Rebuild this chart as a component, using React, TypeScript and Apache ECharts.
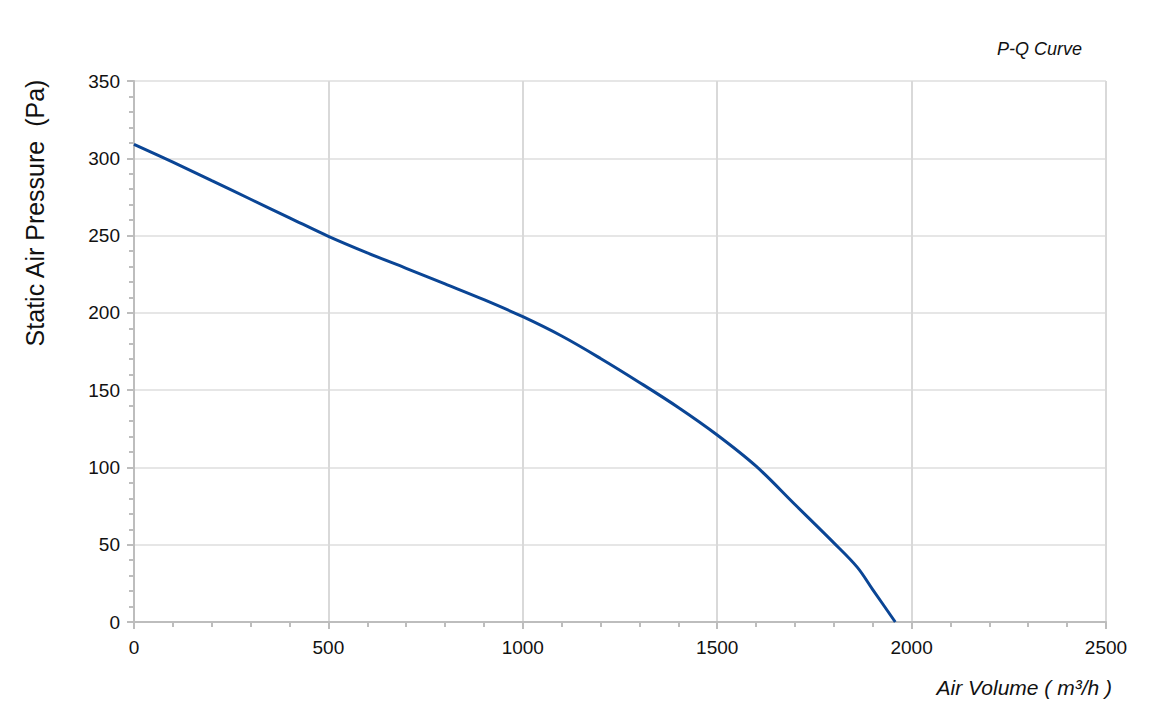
import React, { useEffect, useRef } from "react";
import * as echarts from "echarts";

const airVolume = [0, 100, 200, 300, 400, 500, 600, 700, 800, 900, 1000, 1100, 1200, 1300, 1400, 1500, 1600, 1700, 1800, 1860, 1900, 1958];
const pressure = [309, 297.5, 285.5, 273.5, 261.5, 249.5, 238.8, 228.8, 218.7, 208.5, 197.5, 185, 170.5, 155, 138.8, 121, 100.8, 76, 51.2, 35.5, 21, 0];

const xTicks = [0, 500, 1000, 1500, 2000, 2500];
const yTicks = [0, 50, 100, 150, 200, 250, 300, 350];

const chartTitle = "P-Q Curve";
const xAxisTitle = "Air Volume ( m³/h )";
const yAxisTitle = "Static Air Pressure  (Pa)";

export default function App() {
  const ref = useRef<HTMLDivElement>(null);
  useEffect(() => {
    if (!ref.current) return;
    const chart = echarts.init(ref.current, undefined, { renderer: "svg" });
    const font = "Liberation Sans, Arial, Helvetica, sans-serif";
    chart.setOption({
      animation: false,
      backgroundColor: "#ffffff",
      textStyle: { fontFamily: font },
      grid: { left: 134, right: 50, top: 81, bottom: 83 },
      xAxis: {
        type: "value",
        min: xTicks[0],
        max: xTicks[xTicks.length - 1],
        interval: 500,
        axisLine: { show: true, lineStyle: { color: "#bdbdbd", width: 2 } },
        axisTick: { show: true, length: 7, lineStyle: { color: "#bdbdbd", width: 2 } },
        minorTick: { show: true, splitNumber: 5, length: 5, lineStyle: { color: "#bdbdbd", width: 2 } },
        splitLine: { show: true, lineStyle: { color: "#d9d9d9", width: 2 } },
        axisLabel: { color: "#111", fontSize: 19, margin: 16, fontFamily: font, formatter: (v: number) => String(v) },
      },
      yAxis: {
        type: "value",
        min: yTicks[0],
        max: yTicks[yTicks.length - 1],
        interval: 50,
        axisLine: { show: true, lineStyle: { color: "#bdbdbd", width: 2 } },
        axisTick: { show: true, length: 7, lineStyle: { color: "#bdbdbd", width: 2 } },
        minorTick: { show: true, splitNumber: 5, length: 5, lineStyle: { color: "#bdbdbd", width: 2 } },
        splitLine: { show: true, lineStyle: { color: "#e6e6e6", width: 2 } },
        axisLabel: { color: "#111", fontSize: 19, margin: 14, fontFamily: font, formatter: (v: number) => String(v) },
      },
      series: [
        {
          type: "line",
          data: airVolume.map((x, i) => [x, pressure[i]]),
          smooth: 0.35,
          showSymbol: false,
          lineStyle: { color: "#0a4595", width: 3 },
          z: 5,
        },
      ],
      graphic: [
        {
          type: "text",
          x: 1082,
          y: 49,
          style: { text: chartTitle, fontSize: 18, fontStyle: "italic", fill: "#111", fontFamily: font, align: "right", verticalAlign: "middle" },
        },
        {
          type: "text",
          x: 1112,
          y: 687,
          style: { text: xAxisTitle, fontSize: 21, fontStyle: "italic", fill: "#111", fontFamily: font, align: "right", verticalAlign: "middle" },
        },
        {
          type: "text",
          x: 35,
          y: 213,
          rotation: Math.PI / 2,
          style: {
            text: yAxisTitle,
            fontSize: 25,
            fill: "#111",
            fontFamily: font,
            align: "center",
            verticalAlign: "middle",
          },
        },
      ],
    });
    return () => chart.dispose();
  }, []);
  return <div ref={ref} style={{ width: 1156, height: 705, position: "absolute", left: 0, top: 0 }} />;
}
